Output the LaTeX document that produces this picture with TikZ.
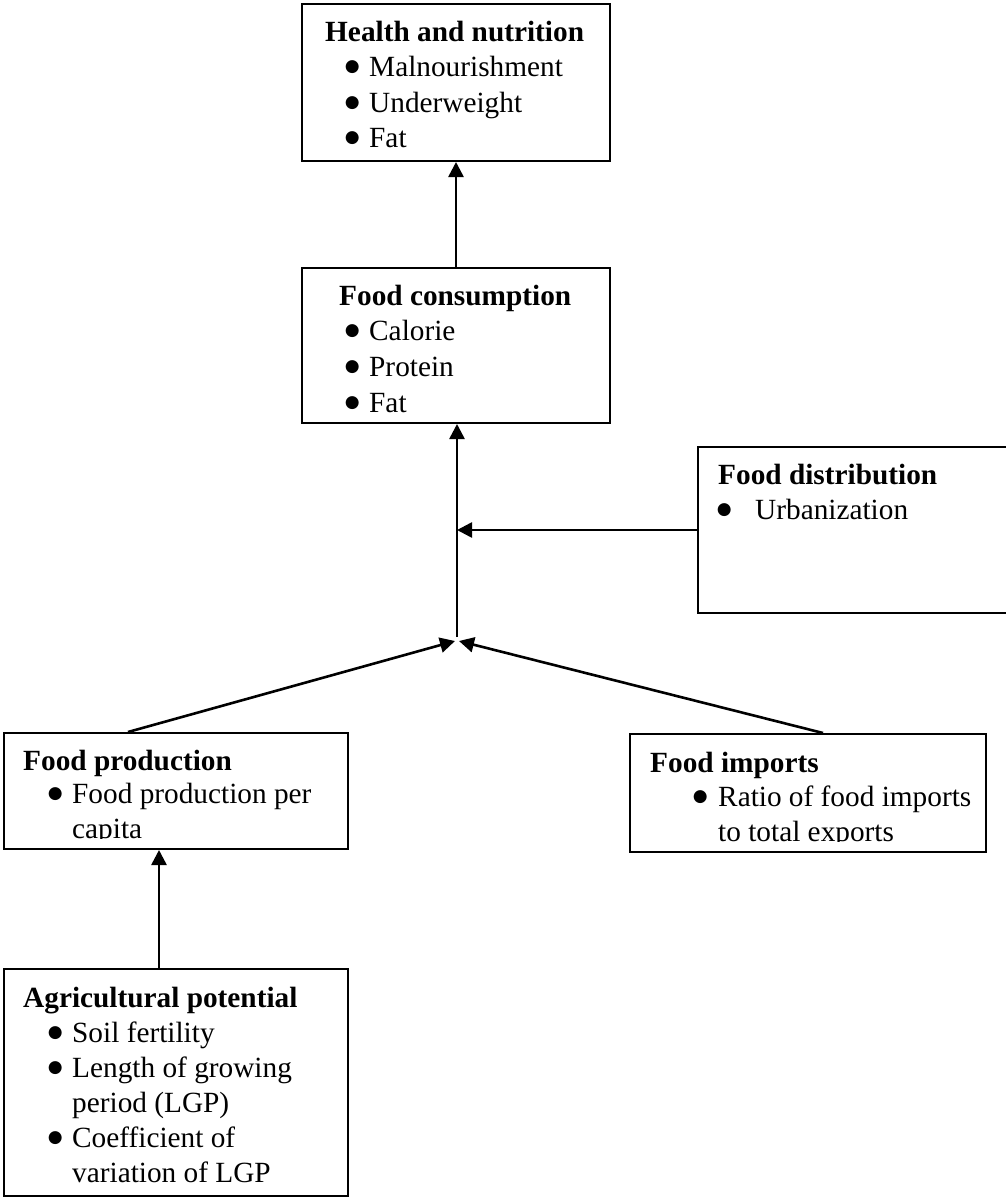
\documentclass[tikz,border=0pt]{standalone}
\usepackage{fontspec}
\setmainfont{Liberation Serif}
\newfontfamily\dejavu{DejaVu Sans}
\usetikzlibrary{arrows.meta,calc}
\newcommand\mybul{\smash{\makebox[0pt]{\raisebox{4.5pt}{\dejavu\fontsize{17}{17}\selectfont ●}}}}
\begin{document}
\begin{tikzpicture}[x=1pt,y=-1pt,
  box/.style={draw,line width=2pt,inner sep=0pt,anchor=north west},
  txt/.style={anchor=base west,inner sep=0pt,font=\fontsize{29.3}{35}\selectfont},
  ttl/.style={anchor=base west,inner sep=0pt,font=\fontsize{29.3}{35}\selectfont\bfseries},
  arr/.style={line width=2.6pt,-{Triangle[length=15pt,width=15pt]}}]
\useasboundingbox (0,0) rectangle (1006,1197);
\clip (0,0) rectangle (1006,1197);

% boxes
\node[box,minimum width=308pt,minimum height=157pt] (health) at (301,3) {};
\node[box,minimum width=308pt,minimum height=155pt] (cons) at (301,267) {};
\node[box,minimum width=330pt,minimum height=166pt] (dist) at (697,446) {};
\node[box,minimum width=344pt,minimum height=116pt] (prod) at (3,732) {};
\node[box,minimum width=356pt,minimum height=118pt] (imp) at (629,733) {};
\node[box,minimum width=344pt,minimum height=227pt] (agri) at (3,968) {};

% Health and nutrition
\node[ttl] (h0) at (325,41) {Health and nutrition};
\node[txt] (h1) at (352,76) {\mybul\hspace{17pt}Malnourishment};
\node[txt] (h2) at (352,112) {\mybul\hspace{17pt}Underweight};
\node[txt] (h3) at (352,147) {\mybul\hspace{17pt}Fat};

% Food consumption
\node[ttl] (c0) at (339,305) {Food consumption};
\node[txt] (c1) at (352,340) {\mybul\hspace{17pt}Calorie};
\node[txt] (c2) at (352,376) {\mybul\hspace{17pt}Protein};
\node[txt] (c3) at (352,412) {\mybul\hspace{17pt}Fat};

% Food distribution
\node[ttl] (d0) at (718,484) {Food distribution};
\node[txt] (d1) at (724,519) {\mybul\hspace{31pt}Urbanization};

% Food production
\begin{scope}
\clip (0,700) rectangle (400,838.5);
\node[ttl] (p0) at (23,770) {Food production};
\node[txt] (p1) at (55,803) {\mybul\hspace{17pt}Food production per};
\node[txt] (p2) at (72,838) {capita};
\end{scope}

% Food imports
\begin{scope}
\clip (600,700) rectangle (1006,841.5);
\node[ttl] (i0) at (650,772) {Food imports};
\node[txt] (i1) at (700,806) {\mybul\hspace{18pt}Ratio of food imports};
\node[txt] (i2) at (718,841) {to total exports};
\end{scope}

% Agricultural potential
\node[ttl] (a0) at (23,1007) {Agricultural potential};
\node[txt] (a1) at (55,1042) {\mybul\hspace{17pt}Soil fertility};
\node[txt] (a2) at (55,1077) {\mybul\hspace{17pt}Length of growing};
\node[txt] (a3) at (72,1112) {period (LGP)};
\node[txt] (a4) at (55,1147) {\mybul\hspace{17pt}Coefficient of};
\node[txt] (a5) at (72,1182) {variation of LGP};

% connectors
\coordinate (jt) at (457,637);
\coordinate (jl) at (455,641);
\coordinate (jr) at (459,641);
\draw[arr] (cons.north) -- (health.south);
\draw[arr] (jt) -- (cons.south -| jt);
\draw[arr] (dist.west) -- (dist.west -| jt);
\draw[arr] ($(prod.north west)+(125,0)$) -- (jl);
\draw[arr] ($(imp.north west)+(194,0)$) -- (jr);
\draw[arr] ($(agri.north west)+(156,0)$) -- ($(prod.south west)+(156,0)$);
\end{tikzpicture}
\end{document}
